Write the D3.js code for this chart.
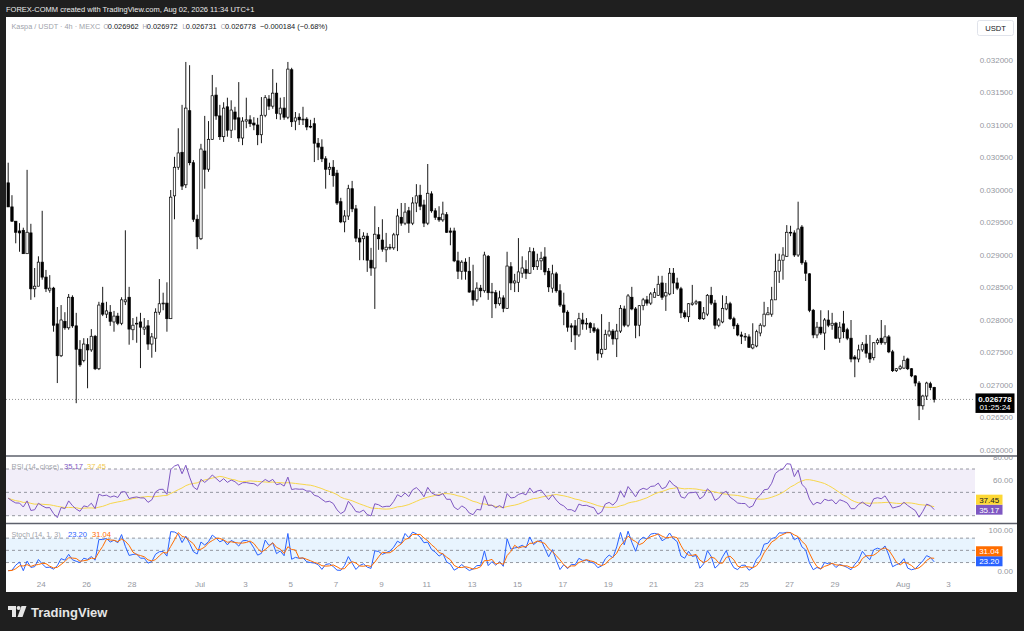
<!DOCTYPE html>
<html><head><meta charset="utf-8">
<script src="https://cdn.jsdelivr.net/npm/d3@7/dist/d3.min.js"></script>
<style>
html,body{margin:0;padding:0;background:#1f1f1f;}
svg{display:block;}
text{font-family:"Liberation Sans",Arial,sans-serif;}
</style></head><body>
<svg id="c" width="1024" height="631"></svg>
<script>
// ---------------- DATA ----------------
const titleText = "FOREX-COMM created with TradingView.com, Aug 02, 2026 11:34 UTC+1";
const symbolText = "Kaspa / USDT · 4h · MEXC";
const firstBarUTC = Date.UTC(2026, 5, 22, 13);   // first visible 4h bar (local time)
const barHours = 4;

const open = [
0.030110,0.029740,0.029520,0.029370,0.029380,0.029020,0.029340,0.028480,0.028520,0.028890,
0.028660,0.028460,0.028490,0.027940,0.027450,0.027980,0.027880,0.028350,0.027910,0.027550,
0.027380,0.027620,0.027540,0.027750,0.027250,0.028260,0.028090,0.028120,0.027970,0.028060,
0.027950,0.028280,0.028350,0.027850,0.027940,0.027970,0.027860,0.027910,0.027630,0.027720,
0.028120,0.028250,0.028260,0.028020,0.029910,0.030350,0.030580,0.030080,0.031220,0.030420,
0.029550,0.029250,0.030600,0.030320,0.030780,0.031460,0.031140,0.030820,0.031280,0.030920,
0.031200,0.031110,0.030800,0.031060,0.031080,0.031030,0.031000,0.030850,0.031150,0.031400,
0.031290,0.031490,0.031170,0.031260,0.031120,0.031850,0.031060,0.031120,0.031080,0.031090,
0.030980,0.031020,0.030720,0.030660,0.030480,0.030320,0.030350,0.030260,0.029820,0.029510,
0.029600,0.030020,0.029710,0.029260,0.029250,0.029290,0.028920,0.028800,0.029310,0.029230,
0.029080,0.029110,0.029110,0.029310,0.029580,0.029490,0.029680,0.029490,0.029800,0.029920,
0.029770,0.029490,0.029940,0.029680,0.029580,0.029540,0.029620,0.029370,0.029370,0.028910,
0.028750,0.028890,0.028750,0.028450,0.028310,0.028490,0.028450,0.028980,0.028420,0.028420,
0.028250,0.028340,0.028180,0.028820,0.028570,0.028580,0.028720,0.028780,0.028720,0.029050,
0.028820,0.028910,0.028970,0.028750,0.028490,0.028710,0.028450,0.028230,0.028120,0.027910,
0.027910,0.027770,0.028000,0.027940,0.027950,0.027880,0.027850,0.027480,0.027550,0.027770,
0.027830,0.027710,0.027830,0.028170,0.027920,0.028350,0.028170,0.027920,0.028220,0.028310,
0.028260,0.028350,0.028380,0.028570,0.028370,0.028400,0.028720,0.028570,0.028480,0.028110,
0.028050,0.028240,0.028260,0.028280,0.028020,0.028090,0.028380,0.028260,0.027920,0.027970,
0.028170,0.028250,0.028020,0.027920,0.027770,0.027740,0.027740,0.027570,0.027600,0.027800,
0.027910,0.028080,0.028090,0.028310,0.028750,0.028920,0.028980,0.029350,0.029340,0.029000,
0.029430,0.028880,0.028710,0.028150,0.027770,0.027890,0.027800,0.028000,0.027920,0.027950,
0.027720,0.027940,0.027850,0.027720,0.027430,0.027400,0.027540,0.027630,0.027490,0.027420,
0.027650,0.027720,0.027650,0.027740,0.027510,0.027220,0.027250,0.027260,0.027400,0.027250,
0.027140,0.027030,0.026680,0.026830,0.027020,0.026962];

const high = [
0.030420,0.029920,0.029520,0.029490,0.029420,0.030310,0.029480,0.028800,0.028980,0.029680,
0.028770,0.028690,0.028510,0.028200,0.028230,0.028120,0.028400,0.028380,0.028110,0.027690,
0.027720,0.027720,0.027860,0.027770,0.028280,0.028510,0.028280,0.028230,0.028140,0.028110,
0.028350,0.029380,0.028510,0.028030,0.028050,0.028110,0.028030,0.028000,0.027800,0.028180,
0.028630,0.028420,0.028580,0.030000,0.030510,0.030950,0.031310,0.031970,0.031920,0.030460,
0.029620,0.030710,0.031140,0.031060,0.031770,0.031580,0.031310,0.031350,0.031420,0.031380,
0.031280,0.031660,0.031120,0.031420,0.031150,0.031120,0.031110,0.031430,0.031460,0.031460,
0.031860,0.031650,0.031420,0.031430,0.031970,0.031880,0.031200,0.031180,0.031280,0.031120,
0.031080,0.031110,0.030800,0.030780,0.030520,0.030420,0.030460,0.030310,0.029880,0.029690,
0.030080,0.030140,0.029770,0.029400,0.029350,0.029340,0.029110,0.029750,0.029430,0.029550,
0.029340,0.029170,0.029340,0.029710,0.029800,0.029800,0.029740,0.029890,0.030090,0.030080,
0.029850,0.030400,0.029980,0.029720,0.029750,0.029820,0.029660,0.029420,0.029420,0.029050,
0.028920,0.028950,0.028970,0.028850,0.028580,0.028540,0.029050,0.029000,0.028570,0.028460,
0.028450,0.028380,0.029050,0.028890,0.028710,0.029260,0.028980,0.028920,0.029120,0.029110,
0.029020,0.029050,0.029120,0.028800,0.028850,0.028740,0.028550,0.028420,0.028150,0.027950,
0.028000,0.028110,0.028110,0.028030,0.027970,0.027950,0.027880,0.028090,0.027850,0.027970,
0.027860,0.027940,0.028230,0.028220,0.028400,0.028510,0.028200,0.028230,0.028340,0.028370,
0.028430,0.028490,0.028680,0.028680,0.028570,0.028800,0.028800,0.028650,0.028510,0.028150,
0.028260,0.028540,0.028310,0.028290,0.028200,0.028400,0.028510,0.028310,0.028030,0.028380,
0.028370,0.028280,0.028050,0.027950,0.027820,0.027800,0.027780,0.027950,0.027850,0.027950,
0.028280,0.028200,0.028510,0.029020,0.029020,0.029120,0.029460,0.029450,0.029380,0.029820,
0.029460,0.028920,0.028720,0.028170,0.027970,0.028150,0.028030,0.028150,0.028110,0.027970,
0.027970,0.028140,0.027880,0.028000,0.027460,0.027620,0.027660,0.027770,0.027770,0.027660,
0.027720,0.028000,0.027920,0.027770,0.027540,0.027260,0.027310,0.027450,0.027420,0.027260,
0.027150,0.027060,0.026850,0.027050,0.027050,0.026972];

const low = [
0.029740,0.029510,0.029180,0.029050,0.029020,0.029020,0.028310,0.028350,0.028520,0.028620,
0.028430,0.028420,0.027820,0.027030,0.027430,0.027850,0.027850,0.027880,0.026720,0.027280,
0.027350,0.026950,0.027510,0.027230,0.027230,0.028060,0.028030,0.027910,0.027820,0.027920,
0.027920,0.028230,0.027620,0.027690,0.027650,0.027260,0.027770,0.027540,0.027420,0.027510,
0.028080,0.028150,0.027820,0.028020,0.029550,0.030310,0.030000,0.030030,0.030380,0.029510,
0.029090,0.029230,0.030020,0.030280,0.030770,0.031080,0.030770,0.030740,0.030820,0.030800,
0.030920,0.030740,0.030690,0.030950,0.030970,0.030920,0.030690,0.030720,0.031120,0.031230,
0.031250,0.031090,0.031080,0.031080,0.031090,0.030970,0.030920,0.031000,0.031000,0.030920,
0.030950,0.030430,0.030460,0.030430,0.030020,0.030230,0.030050,0.029770,0.029490,0.029350,
0.029540,0.029660,0.029200,0.028920,0.028920,0.028740,0.028680,0.028170,0.029080,0.029050,
0.028890,0.029080,0.029080,0.029060,0.029450,0.029460,0.029340,0.029460,0.029660,0.029690,
0.029430,0.029460,0.029650,0.029540,0.029510,0.029510,0.029340,0.029150,0.028890,0.028630,
0.028620,0.028620,0.028420,0.028220,0.028280,0.028350,0.028420,0.028310,0.028030,0.028180,
0.028220,0.028120,0.028170,0.028460,0.028430,0.028430,0.028650,0.028630,0.028710,0.028770,
0.028770,0.028770,0.028690,0.028430,0.028420,0.028420,0.028200,0.027920,0.027820,0.027660,
0.027540,0.027740,0.027850,0.027850,0.027800,0.027800,0.027380,0.027420,0.027540,0.027740,
0.027620,0.027430,0.027800,0.027890,0.027890,0.028150,0.027720,0.027750,0.028150,0.028220,
0.028230,0.028350,0.028370,0.028310,0.028140,0.028380,0.028400,0.028460,0.028030,0.028020,
0.027970,0.028220,0.028230,0.028000,0.028000,0.028060,0.028230,0.027860,0.027890,0.027950,
0.028150,0.028000,0.027860,0.027750,0.027630,0.027680,0.027570,0.027550,0.027580,0.027750,
0.027890,0.028080,0.028050,0.028310,0.028570,0.028620,0.028970,0.029290,0.028970,0.028970,
0.028850,0.028600,0.028120,0.027720,0.027720,0.027770,0.027540,0.027890,0.027850,0.027710,
0.027650,0.027720,0.027690,0.027350,0.027120,0.027350,0.027510,0.027420,0.027340,0.027380,
0.027620,0.027620,0.027620,0.027490,0.027200,0.027200,0.027230,0.027250,0.027230,0.027120,
0.026980,0.026460,0.026620,0.026770,0.026920,0.026731];

const close = [
0.029740,0.029520,0.029350,0.029340,0.029020,0.029350,0.028480,0.028520,0.028890,0.028660,
0.028480,0.028490,0.027920,0.027450,0.028000,0.027880,0.028350,0.027910,0.027550,0.027310,
0.027630,0.027540,0.027750,0.027250,0.028230,0.028090,0.028140,0.027980,0.028060,0.027950,
0.028310,0.028310,0.027860,0.027920,0.027950,0.027890,0.027890,0.027630,0.027740,0.028120,
0.028250,0.028260,0.028020,0.029890,0.030350,0.030570,0.030060,0.031260,0.030420,0.029550,
0.029280,0.030630,0.030320,0.030780,0.031450,0.031140,0.030820,0.031260,0.030920,0.031230,
0.031090,0.030800,0.031060,0.031080,0.031020,0.031000,0.030850,0.031150,0.031420,0.031290,
0.031490,0.031180,0.031260,0.031120,0.031860,0.031050,0.031110,0.031080,0.031090,0.030970,
0.030970,0.030720,0.030660,0.030480,0.030320,0.030350,0.030220,0.029800,0.029510,0.029600,
0.030020,0.029710,0.029260,0.029200,0.029290,0.028920,0.028800,0.029320,0.029250,0.029090,
0.029120,0.029120,0.029310,0.029600,0.029490,0.029660,0.029490,0.029800,0.029910,0.029750,
0.029490,0.029950,0.029680,0.029580,0.029540,0.029630,0.029350,0.029350,0.028910,0.028750,
0.028890,0.028750,0.028430,0.028310,0.028490,0.028450,0.029000,0.028420,0.028430,0.028250,
0.028340,0.028180,0.028830,0.028570,0.028600,0.028740,0.028800,0.028720,0.029050,0.028820,
0.028910,0.028950,0.028740,0.028510,0.028710,0.028450,0.028230,0.028120,0.027890,0.027890,
0.027770,0.028020,0.027940,0.027950,0.027880,0.027830,0.027490,0.027550,0.027780,0.027830,
0.027710,0.027830,0.028180,0.027920,0.028370,0.028170,0.027920,0.028220,0.028310,0.028260,
0.028400,0.028420,0.028550,0.028350,0.028420,0.028720,0.028570,0.028490,0.028110,0.028050,
0.028250,0.028260,0.028280,0.028020,0.028110,0.028380,0.028260,0.027920,0.028000,0.028180,
0.028250,0.028020,0.027910,0.027770,0.027750,0.027750,0.027580,0.027620,0.027820,0.027920,
0.028090,0.028110,0.028310,0.028750,0.028920,0.029000,0.029350,0.029340,0.029000,0.029400,
0.028880,0.028720,0.028150,0.027770,0.027890,0.027800,0.028000,0.027920,0.027950,0.027720,
0.027890,0.027820,0.027720,0.027400,0.027400,0.027540,0.027620,0.027490,0.027400,0.027650,
0.027690,0.027650,0.027740,0.027510,0.027220,0.027250,0.027280,0.027380,0.027250,0.027140,
0.027030,0.026680,0.026830,0.027030,0.026962,0.026778];

const priceTicks = [0.0320,0.0315,0.0310,0.0305,0.0300,0.0295,0.0290,0.0285,0.0280,0.0275,0.0270,0.0265,0.0260];
const timeTickDates = ["2026-06-24","2026-06-26","2026-06-28","2026-07-01","2026-07-03","2026-07-05","2026-07-07","2026-07-09","2026-07-11","2026-07-13","2026-07-15","2026-07-17","2026-07-19","2026-07-21","2026-07-23","2026-07-25","2026-07-27","2026-07-29","2026-08-01","2026-08-03"];
const timeTickLabels = ["24","26","28","Jul","3","5","7","9","11","13","15","17","19","21","23","25","27","29","Aug","3"];
const rsiLevels = [70,50,30];
const rsiAxisTicks = [80,60];
const stochLevels = [80,50,20];
const stochAxisTicks = [100,0];
const rsiLegendValues = [35.17, 37.45];     // RSI, RSI-based MA (as shown)
const stochLegendValues = [23.20, 31.04];   // %K, %D (as shown)
const rsiStartLevel = 45;                   // RSI level read at the left edge (state before window)
const countdownText = "01:25:24";

// ---------------- LAYOUT ----------------
const svg = d3.select("#c");
const plotL = 6, plotR = 975, panelR = 1017;
const mainTop = 17, mainBot = 456, rsiBot = 523.5, stochBot = 575;
const grey = "#9598a1";
const FS = 8;

svg.append("rect").attr("width",1024).attr("height",631).attr("fill","#1f1f1f");
svg.append("rect").attr("x",plotL).attr("y",mainTop).attr("width",panelR-plotL).attr("height",592-mainTop).attr("fill","#ffffff");

svg.append("text").attr("x",6).attr("y",11.5).attr("fill","#ececec").attr("font-size",7.5).text(titleText);

const defs = svg.append("defs");
defs.append("clipPath").attr("id","clipMain").append("rect").attr("x",plotL).attr("y",mainTop).attr("width",plotR-plotL).attr("height",mainBot-mainTop);
defs.append("clipPath").attr("id","clipRsi").append("rect").attr("x",plotL).attr("y",mainBot+1).attr("width",plotR-plotL).attr("height",rsiBot-mainBot-1);
defs.append("clipPath").attr("id","clipSto").append("rect").attr("x",plotL).attr("y",rsiBot+1).attr("width",plotR-plotL).attr("height",stochBot-rsiBot-1);
defs.append("clipPath").attr("id","clipRsiAxis").append("rect").attr("x",plotR).attr("y",mainBot+1).attr("width",panelR-plotR).attr("height",rsiBot-mainBot-1);

// scales
const x = d3.scaleUtc().domain([new Date(Date.UTC(2026,6,1)), new Date(Date.UTC(2026,7,1))]).range([200,903]);
const y = d3.scaleLinear().domain([0.026,0.032]).range([450,60]);
const yR = d3.scaleLinear().domain([30,70]).range([515.7,469.0]);
const yS = d3.scaleLinear().domain([0,100]).range([570.7,530]);

const n = close.length;
const times = d3.range(n).map(i => new Date(firstBarUTC + i*barHours*3600e3));

// ---------------- MAIN PANE ----------------
const gMain = svg.append("g").attr("clip-path","url(#clipMain)");
gMain.append("line").attr("x1",plotL).attr("x2",plotR).attr("y1",y(close[n-1])).attr("y2",y(close[n-1]))
  .attr("stroke","#777").attr("stroke-width",0.8).attr("stroke-dasharray","1,2");

const bars = gMain.selectAll("g.bar").data(d3.range(n)).join("g");
bars.append("line")
  .attr("x1",i=>x(times[i])).attr("x2",i=>x(times[i]))
  .attr("y1",i=>y(high[i])).attr("y2",i=>y(low[i]))
  .attr("stroke","#1a1a1a").attr("stroke-width",1);
const bw = 2.4;
bars.append("rect")
  .attr("x",i=>x(times[i])-bw/2)
  .attr("y",i=>y(Math.max(open[i],close[i])))
  .attr("width",bw)
  .attr("height",i=>Math.max(0.8, Math.abs(y(open[i])-y(close[i]))))
  .attr("fill",i=> close[i]>=open[i] ? "#ffffff" : "#000000")
  .attr("stroke","#000").attr("stroke-width",0.7);

// header legend (positions as in the reference)
const lastChg = close[n-1]-close[n-2];
const fmt6 = d3.format(".6f");
const hdrY = 28.5, HF = 7.4;
svg.append("text").attr("x",11.5).attr("y",hdrY).attr("font-size",7.3).attr("fill","#a0a3ab").text(symbolText);
const ohlc = [["O",open[n-1],103.5,107.8],["H",high[n-1],142.6,146.8],["L",low[n-1],182.4,185.8],["C",close[n-1],220.8,225]];
ohlc.forEach(([k,v,px,vx])=>{
  svg.append("text").attr("x",px).attr("y",hdrY).attr("font-size",6.4).attr("fill","#a0a3ab").text(k);
  svg.append("text").attr("x",vx).attr("y",hdrY).attr("font-size",HF).attr("fill","#131722").text(fmt6(v));
});
svg.append("text").attr("x",260).attr("y",hdrY).attr("font-size",HF).attr("fill","#131722")
  .text((lastChg<0?"\u2212":"+")+fmt6(Math.abs(lastChg))+" ("+(lastChg<0?"\u2212":"+")+(Math.abs(lastChg)/close[n-2]*100).toFixed(2)+"%)");

// price axis labels
svg.append("g").selectAll("text").data(priceTicks).join("text")
  .attr("x",1013).attr("y",d=>y(d)+2.8).attr("text-anchor","end").attr("font-size",FS).attr("fill",grey)
  .text(d=>d.toFixed(6));

// USDT button
svg.append("rect").attr("x",977.5).attr("y",20.5).attr("width",36).attr("height",15).attr("rx",2).attr("fill","#fff").attr("stroke","#e0e3eb");
svg.append("text").attr("x",995.5).attr("y",31).attr("text-anchor","middle").attr("font-size",7.6).attr("fill","#131722").text("USDT");

// last price box
const ly = y(close[n-1]);
svg.append("rect").attr("x",975.5).attr("y",ly-6).attr("width",39).attr("height",19.5).attr("fill","#000");
svg.append("text").attr("x",995).attr("y",ly+2.5).attr("text-anchor","middle").attr("font-size",FS).attr("font-weight","bold").attr("fill","#fff").text(fmt6(close[n-1]));
svg.append("text").attr("x",995).attr("y",ly+11).attr("text-anchor","middle").attr("font-size",FS).attr("fill","#fff").text(countdownText);

// ---------------- INDICATORS ----------------
const rsi = new Array(n);
let absSum = 0; for (let i=1;i<=14;i++) absSum += Math.abs(close[i]-close[i-1]);
const avgAbs = absSum/14;
let ag = avgAbs*rsiStartLevel/100, al = avgAbs*(1-rsiStartLevel/100);
rsi[0] = rsiStartLevel;
for (let i=1;i<n;i++){
  const d = close[i]-close[i-1];
  ag = (ag*13 + Math.max(d,0))/14;
  al = (al*13 + Math.max(-d,0))/14;
  rsi[i] = al===0 ? 100 : 100 - 100/(1+ag/al);
}
const rsiMa = rsi.map((v,i)=> d3.mean(rsi.slice(Math.max(0,i-13), i+1)));
const kLine = d3.range(n).map(i=>{
  const lo = d3.min(low.slice(Math.max(0,i-13),i+1)), hi = d3.max(high.slice(Math.max(0,i-13),i+1));
  return hi===lo ? 50 : 100*(close[i]-lo)/(hi-lo);
});
const dLine = kLine.map((v,i)=> d3.mean(kLine.slice(Math.max(0,i-2),i+1)));

[mainBot, rsiBot].forEach(v=>{
  svg.append("line").attr("x1",plotL).attr("x2",panelR).attr("y1",v).attr("y2",v).attr("stroke","#5d606b").attr("stroke-width",1.4);
});

// RSI pane
const gR = svg.append("g").attr("clip-path","url(#clipRsi)");
gR.append("rect").attr("x",plotL).attr("width",plotR-plotL).attr("y",yR(70)).attr("height",yR(30)-yR(70)).attr("fill","rgba(126,87,194,0.1)");
gR.selectAll("line.lvl").data(rsiLevels).join("line").attr("x1",plotL).attr("x2",plotR)
  .attr("y1",d=>yR(d)).attr("y2",d=>yR(d)).attr("stroke","#8a8d96").attr("stroke-width",0.9).attr("stroke-dasharray","3,3");
const lineR = v => d3.line().x((d,i)=>x(times[i])).y(d=>yR(d))(v);
gR.append("path").attr("d",lineR(rsiMa)).attr("fill","none").attr("stroke","#f7d64a").attr("stroke-width",1);
gR.append("path").attr("d",lineR(rsi)).attr("fill","none").attr("stroke","#7e57c2").attr("stroke-width",1);

svg.append("g").attr("clip-path","url(#clipRsiAxis)").selectAll("text").data(rsiAxisTicks).join("text")
  .attr("x",1013).attr("y",d=>yR(d)+2.8).attr("text-anchor","end").attr("font-size",FS).attr("fill",grey).text(d=>d.toFixed(2));

const rl = svg.append("text").attr("x",11.5).attr("y",469).attr("font-size",7.2);
rl.append("tspan").attr("fill","#a0a3ab").text("RSI (14, close)");
rl.append("tspan").attr("x",64).attr("fill","#7e57c2").attr("font-size",7.6).text(rsiLegendValues[0].toFixed(2));
rl.append("tspan").attr("x",87).attr("fill","#f2c94c").attr("font-size",7.6).text(rsiLegendValues[1].toFixed(2));

// Stoch pane
const gS = svg.append("g").attr("clip-path","url(#clipSto)");
gS.append("rect").attr("x",plotL).attr("width",plotR-plotL).attr("y",yS(80)).attr("height",yS(20)-yS(80)).attr("fill","rgba(33,150,243,0.1)");
gS.selectAll("line.lvl").data(stochLevels).join("line").attr("x1",plotL).attr("x2",plotR)
  .attr("y1",d=>yS(d)).attr("y2",d=>yS(d)).attr("stroke","#8a8d96").attr("stroke-width",0.9).attr("stroke-dasharray","3,3");
const lineS = v => d3.line().x((d,i)=>x(times[i])).y(d=>yS(d))(v);
gS.append("path").attr("d",lineS(kLine)).attr("fill","none").attr("stroke","#2962ff").attr("stroke-width",1);
gS.append("path").attr("d",lineS(dLine)).attr("fill","none").attr("stroke","#ff6d00").attr("stroke-width",1);

svg.append("g").selectAll("text").data(stochAxisTicks).join("text")
  .attr("x",1013).attr("y",d=>yS(d)+2.8).attr("text-anchor","end").attr("font-size",FS).attr("fill",grey).text(d=>d.toFixed(2));

const sl = svg.append("text").attr("x",11.5).attr("y",537).attr("font-size",7.2);
sl.append("tspan").attr("fill","#a0a3ab").text("Stoch (14, 1, 3)");
sl.append("tspan").attr("x",68).attr("fill","#2962ff").attr("font-size",7.6).text(stochLegendValues[0].toFixed(2));
sl.append("tspan").attr("x",92).attr("fill","#ff6d00").attr("font-size",7.6).text(stochLegendValues[1].toFixed(2));

function valueBoxes(items, sc){
  const h = 10;
  const sorted = items.map(d=>({...d, cy: sc(d.v)})).sort((a,b)=>b.cy-a.cy);
  for (let i=1;i<sorted.length;i++){
    if (sorted[i-1].cy - sorted[i].cy < h) sorted[i].cy = sorted[i-1].cy - h;
  }
  sorted.forEach(d=>{
    svg.append("rect").attr("x",976).attr("y",d.cy-h/2).attr("width",26.5).attr("height",h).attr("fill",d.bg);
    svg.append("text").attr("x",989.2).attr("y",d.cy+2.9).attr("text-anchor","middle").attr("font-size",FS).attr("fill",d.fg).text(d.v.toFixed(2));
  });
}
valueBoxes([{v:rsiLegendValues[0],bg:"#7e57c2",fg:"#fff"},{v:rsiLegendValues[1],bg:"#fdd835",fg:"#131722"}], yR);
valueBoxes([{v:stochLegendValues[0],bg:"#2962ff",fg:"#fff"},{v:stochLegendValues[1],bg:"#ff6d00",fg:"#fff"}], yS);

// time axis
svg.append("g").selectAll("text").data(timeTickDates).join("text")
  .attr("x",d=>x(new Date(d+"T00:00:00Z"))).attr("y",587).attr("text-anchor","middle")
  .attr("font-size",FS).attr("fill",grey).text((d,i)=>timeTickLabels[i]);

// ---------------- LOGO ----------------
const logo = svg.append("g").attr("fill","#e6e6e6");
logo.append("path").attr("d","M8,606 H16 V617 H12 V610 H8 Z");
logo.append("circle").attr("cx",18.6).attr("cy",608).attr("r",2);
logo.append("path").attr("d","M21.5,606 H26.5 L22.5,617 H17.5 Z");
svg.append("text").attr("x",31).attr("y",616.5).attr("font-size",13).attr("font-weight","bold").attr("fill","#e6e6e6").text("TradingView");
</script>
</body></html>
